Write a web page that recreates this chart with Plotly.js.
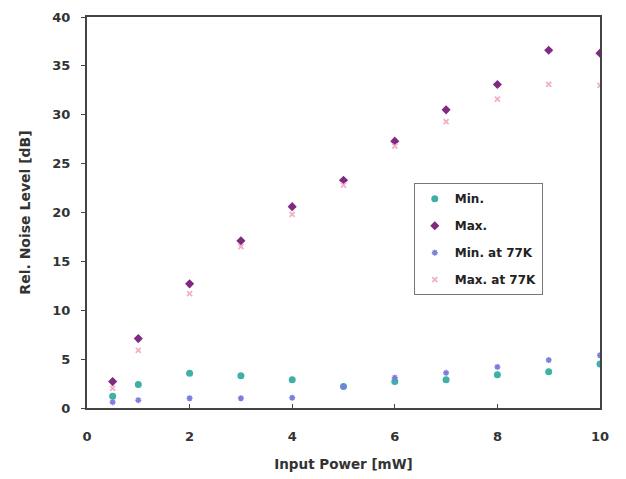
<!DOCTYPE html>
<html>
<head>
<meta charset="utf-8">
<script src="https://cdn.plot.ly/plotly-3.0.1.min.js"></script>
<style>html,body{margin:0;padding:0;background:#fff;}#chart{width:626px;height:479px;}</style>
</head>
<body>
<div id="chart"></div>
<script>
const power = [0.5, 1, 2, 3, 4, 5, 6, 7, 8, 9, 10];
const minLevel = [1.2, 2.4, 3.55, 3.3, 2.9, 2.2, 2.7, 2.9, 3.4, 3.7, 4.5];
const maxLevel = [2.7, 7.1, 12.7, 17.1, 20.6, 23.3, 27.3, 30.5, 33.1, 36.6, 36.3];
const min77K = [0.6, 0.8, 1.0, 1.0, 1.05, 2.2, 3.1, 3.6, 4.2, 4.9, 5.4];
const max77K = [2.0, 5.9, 11.7, 16.5, 19.8, 22.8, 26.8, 29.3, 31.6, 33.1, 33.0];
const seriesNames = ["Min.", "Max.", "Min. at 77K", "Max. at 77K"];
const xTicks = [0, 2, 4, 6, 8, 10];
const yTicks = [0, 5, 10, 15, 20, 25, 30, 35, 40];

const traces = [
  {x: power, y: minLevel, name: seriesNames[0], legendgroup: 'a', type: 'scatter', mode: 'markers',
   marker: {symbol: 'circle', size: 7, color: '#3fb0a6'}},
  {x: power, y: maxLevel, name: seriesNames[1], legendgroup: 'b', type: 'scatter', mode: 'markers',
   marker: {symbol: 'diamond', size: 7, color: '#7d2a80'}},
  {x: power, y: min77K, name: seriesNames[2], legendgroup: 'c', type: 'scatter', mode: 'markers',
   marker: {symbol: 'asterisk-open', size: 5, color: '#7d7de0', line: {width: 1.5, color: '#7d7de0'}}},
  {x: power, y: max77K, name: seriesNames[3], legendgroup: 'd', type: 'scatter', mode: 'markers',
   marker: {symbol: 'x-thin-open', size: 5, color: '#f2b0c4', line: {width: 1.8, color: '#f2b0c4'}}}
];

const F = 'DejaVu Sans, Arial, sans-serif';
const layout = {
  width: 626, height: 479,
  margin: {l: 87, r: 26, t: 17, b: 71},
  paper_bgcolor: '#fff', plot_bgcolor: '#fff',
  font: {family: F, color: '#333', size: 12},
  showlegend: true,
  legend: {
    x: 0.637, y: 0.575, xanchor: 'left', yanchor: 'top',
    bgcolor: '#fff', bordercolor: '#777', borderwidth: 1,
    font: {family: F, size: 12, color: '#222', weight: 'bold'},
    tracegroupgap: 8, itemwidth: 30
  },
  xaxis: {
    range: [0, 10], tickvals: xTicks, ticktext: xTicks.map(String),
    showgrid: false, zeroline: false,
    showline: true, linecolor: '#444', linewidth: 2, mirror: true,
    ticks: 'inside', ticklen: 4, tickcolor: '#444',
    ticklabelstandoff: 15,
    tickfont: {family: F, size: 13, color: '#333', weight: 'bold'},
    title: {text: 'Input Power [mW]', font: {family: F, size: 13.5, color: '#333', weight: 'bold'}, standoff: 17}
  },
  yaxis: {
    range: [0, 40], tickvals: yTicks, ticktext: yTicks.map(String),
    showgrid: false, zeroline: false,
    showline: true, linecolor: '#444', linewidth: 2, mirror: true,
    ticks: 'outside', ticklen: 4, tickcolor: '#444',
    ticklabelstandoff: 8,
    tickfont: {family: F, size: 13, color: '#333', weight: 'bold'},
    title: {text: 'Rel. Noise Level [dB]', font: {family: F, size: 14, color: '#333', weight: 'bold'}, standoff: 18}
  }
};

Plotly.newPlot('chart', traces, layout, {displayModeBar: false, staticPlot: true});
</script>
</body>
</html>
